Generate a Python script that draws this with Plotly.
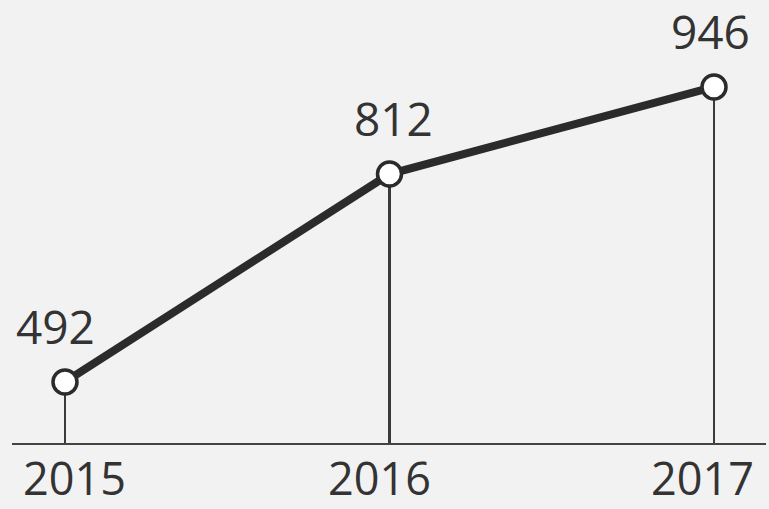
import plotly.graph_objects as go

years = [2015, 2016, 2017]
values = [492, 812, 946]
labels = ["492", "812", "946"]
tick_labels = ["2015", "2016", "2017"]

# small horizontal nudges (style) for text placement
value_label_dx = [-9, 4, -4]
tick_label_dx = [10, -10, -12]

ink = "#2b2b2b"
bg = "#f2f2f2"
text_color = "#333333"
font_family = "Open Sans, Noto Sans, sans-serif"
font_size = 46

fig = go.Figure()

# thin drop lines from each point to the baseline
fig.add_trace(go.Bar(
    x=years, y=values, width=0.0065,
    marker=dict(color="#3a3a3a", line=dict(width=0)),
    hoverinfo="skip", showlegend=False,
))

# main line with hollow markers
fig.add_trace(go.Scatter(
    x=years, y=values, mode="lines+markers",
    line=dict(color=ink, width=8),
    marker=dict(size=24, color="white", line=dict(color=ink, width=3.5)),
    cliponaxis=False, showlegend=False,
))

for xv, yv, t, dx in zip(years, values, labels, value_label_dx):
    fig.add_annotation(
        x=xv, y=yv, text=t, showarrow=False, yshift=56, xshift=dx,
        font=dict(size=font_size, color=text_color, family=font_family),
        xanchor="center", yanchor="middle",
    )

for xv, t, dx in zip(years, tick_labels, tick_label_dx):
    fig.add_annotation(
        x=xv, xref="x", y=0, yref="paper", text=t, showarrow=False,
        yshift=-34, xshift=dx,
        font=dict(size=font_size - 1, color=text_color, family=font_family),
        xanchor="center", yanchor="middle",
    )

fig.update_layout(
    width=769, height=509,
    margin=dict(l=12, r=3, t=0, b=66),
    paper_bgcolor=bg, plot_bgcolor=bg,
    bargap=0,
    xaxis=dict(
        range=[2014.8367, 2017.1602],
        showticklabels=False,
        showgrid=False, zeroline=False,
        showline=True, linecolor="#444444", linewidth=2,
        ticks="",
    ),
    yaxis=dict(
        range=[398.1, 1079.8],
        visible=False, showgrid=False, zeroline=False,
    ),
)

fig.write_html(
    "out.html",
    config={"displayModeBar": False},
    post_script="document.body.style.margin='0';document.body.style.padding='0';",
)
